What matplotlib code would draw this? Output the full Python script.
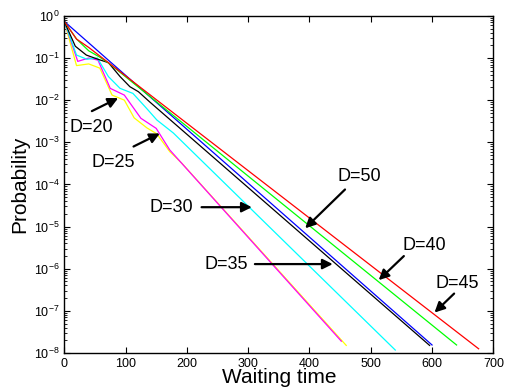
import matplotlib
matplotlib.use('Agg')

import matplotlib.pyplot as plt
from matplotlib.ticker import LogLocator, NullFormatter

plt.rcParams['font.family'] = ['Liberation Sans', 'DejaVu Sans']
plt.rcParams['mathtext.fontset'] = 'custom'
plt.rcParams['mathtext.rm'] = 'Liberation Sans'
plt.rcParams['mathtext.it'] = 'Liberation Sans:italic'
plt.rcParams['mathtext.sf'] = 'Liberation Sans'

# Knot points (waiting time, log10 probability);
# beyond the last early knot each curve is a straight line on the log axis.
yellow_t = [0, 20, 40, 58, 78, 98, 114, 135, 151, 172, 192, 460]
yellow_p = [-0.13, -1.18, -1.14, -1.24, -1.88, -2.0, -2.42, -2.66, -2.8, -3.22, -3.5, -7.82]

magenta_t = [0, 22, 40, 55, 75, 98, 125, 150, 172, 452]
magenta_p = [-0.13, -1.08, -1.0, -1.05, -1.72, -1.88, -2.43, -2.67, -3.18, -7.72]

cyan_t = [0, 20, 37, 54, 72, 91, 112, 134, 151, 178, 540]
cyan_p = [-0.13, -0.93, -1.03, -1.0, -1.44, -1.72, -1.84, -2.19, -2.47, -2.78, -7.93]

black_t = [0, 18, 36, 55, 72, 91, 107, 121, 140, 596]
black_p = [-0.13, -0.72, -0.93, -1.03, -1.11, -1.44, -1.68, -1.8, -2.05, -7.82]

blue_t = [0, 600]
blue_p = [-0.13, -7.81]

green_t = [0, 20, 40, 58, 75, 640]
green_p = [-0.13, -0.55, -0.83, -0.98, -1.15, -7.81]

red_t = [0, 20, 40, 676]
red_p = [-0.13, -0.55, -0.75, -7.9]

series = [
    (yellow_t, yellow_p, '#ffff00'),
    (magenta_t, magenta_p, '#ff00ff'),
    (cyan_t, cyan_p, '#00ffff'),
    (black_t, black_p, 'k'),
    (blue_t, blue_p, '#0000ff'),
    (green_t, green_p, '#00ff00'),
    (red_t, red_p, '#ff0000'),
]

# label, text position, arrow tail, arrow tip  (time, log10 prob)
labels = ['D=20', 'D=25', 'D=30', 'D=35', 'D=50', 'D=40', 'D=45']
text_pos = [(44, -2.64), (80, -3.47), (174, -4.54), (265, -5.89),
            (482, -3.80), (588, -5.46), (641, -6.35)]
arrow_from = [(45, -2.26), (113, -3.10), (224, -4.54), (311, -5.89),
              (458, -4.12), (554, -5.70), (636, -6.59)]
arrow_to = [(88, -1.95), (156, -2.79), (306, -4.54), (438, -5.89),
            (393, -5.04), (513, -6.27), (604, -7.04)]

fig = plt.figure(figsize=(5.06, 3.92), dpi=100)
ax = fig.add_axes([0.127, 0.0995, 0.848, 0.860])

for t, p, c in series:
    ax.plot(t, [10 ** v for v in p], color=c, lw=0.9)

for lab, tp, a0, a1 in zip(labels, text_pos, arrow_from, arrow_to):
    ax.text(tp[0], 10 ** tp[1], lab, fontsize=13, ha='center', va='center')
    ax.annotate('', xy=(a1[0], 10 ** a1[1]), xytext=(a0[0], 10 ** a0[1]),
                arrowprops=dict(arrowstyle='-|>', color='k', lw=1.6,
                                mutation_scale=15, shrinkA=0, shrinkB=0))

ax.set_yscale('log')
ax.set_xlim(0, 700)
ax.set_ylim(1e-8, 1)
ax.set_xticks(range(0, 701, 100))
ax.yaxis.set_major_locator(LogLocator(base=10, numticks=20))
ax.yaxis.set_minor_locator(LogLocator(base=10, subs=range(2, 10), numticks=20))
ax.yaxis.set_minor_formatter(NullFormatter())
ax.tick_params(which='both', direction='in', top=True, right=True, labelsize=9)
ax.tick_params(which='major', length=4)
ax.tick_params(which='minor', length=2)
for s in ax.spines.values():
    s.set_linewidth(1.0)

ax.set_xlabel('Waiting time', fontsize=15, labelpad=-1)
ax.set_ylabel('Probability', fontsize=15, labelpad=3)

fig.savefig('out.png', dpi=100)
